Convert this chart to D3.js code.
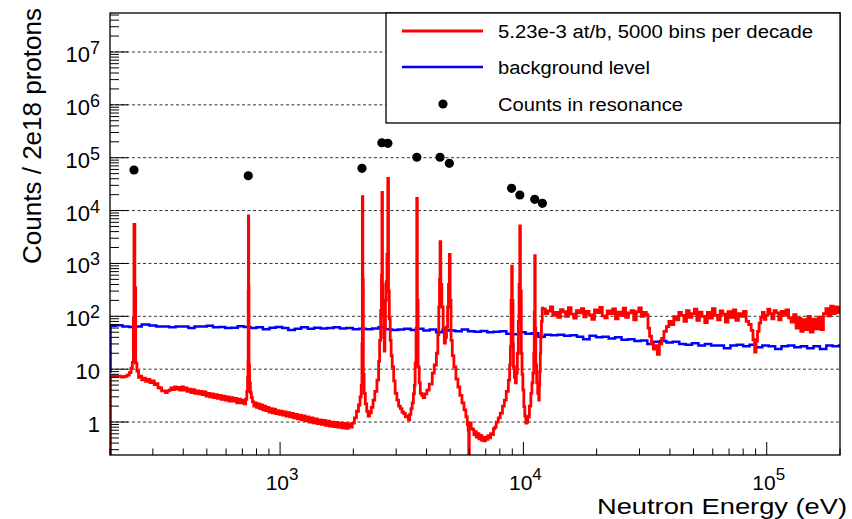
<!DOCTYPE html>
<html lang="en">
<head>
<meta charset="UTF-8">
<title>Counts vs Neutron Energy</title>
<script src="https://d3js.org/d3.v7.min.js"></script>
<style>
  body { margin: 0; background: #fff; }
  svg { display: block; font-family: "Liberation Sans", Arial, sans-serif; }
</style>
</head>
<body>
<div id="chart"></div>
<script>
// red histogram, [energy eV, counts]
const redTrace = [
  [200,0.1],[201,7.5],[208,7.3],[215,7.4],[222,7.1],[229,7.3],[235,7.7],[240,8.6],[244,10.5],[247,13.5],
  [249.5,90],[251,5500],[253,350],[255,13],[258,9.2],[262,7.0],[266,7.4],[270,6.3],[275,6.8],[280,5.9],
  [286,6.4],[292,5.6],[298,6.0],[304,5.1],[310,5.3],[315,4.5],[320,4.4],[326,3.9],[332,3.9],[338,3.6],
  [344,3.9],[350,4.0],[356,4.4],[362,4.1],[368,4.6],[374,4.2],[380,4.5],[387,4.0],[394,4.6],[401,4.0],
  [408,4.4],[415,3.8],[422,4.2],[430,3.6],[438,4.1],[446,3.5],[454,3.9],[462,3.4],[470,3.8],[478,3.3],
  [487,3.7],[496,3.1],[505,3.5],[514,3.0],[523,3.4],[532,2.9],[542,3.3],[552,2.8],[562,3.2],[572,2.7],
  [583,3.1],[594,2.6],[605,3.0],[616,2.5],[628,2.9],[640,2.5],[652,2.8],[664,2.3],[676,2.7],[688,2.3],
  [700,2.6],[712,2.2],[722,2.7],[730,3.8],[735,7],[738,14],[739.5,300],[741,7900],[743,385],[745,12],
  [749,5.5],[755,3.6],[762,2.9],[770,2.4],[780,2.0],[790,2.3],[800,1.9],[812,2.2],[824,1.8],[836,2.1],
  [848,1.7],[860,2.0],[873,1.65],[886,1.9],[900,1.55],[914,1.8],[928,1.5],[943,1.75],[958,1.45],[973,1.65],
  [990,1.4],[1005,1.6],[1022,1.35],[1040,1.55],[1058,1.3],[1076,1.5],[1095,1.25],[1115,1.45],[1135,1.2],[1155,1.4],
  [1176,1.15],[1198,1.35],[1220,1.1],[1242,1.3],[1265,1.05],[1290,1.25],[1315,1.0],[1340,1.2],[1365,0.97],[1392,1.15],
  [1420,0.93],[1448,1.1],[1477,0.9],[1506,1.07],[1536,0.87],[1566,1.04],[1597,0.84],[1628,1.0],[1660,0.82],[1693,0.98],
  [1727,0.8],[1761,0.95],[1796,0.78],[1832,0.94],[1868,0.76],[1905,0.92],[1943,0.8],[1980,0.95],[2020,1.2],[2060,1.6],
  [2100,2.1],[2130,3.0],[2155,5],[2170,30],[2178,18300],[2188,500],[2198,8],[2215,3.5],[2240,2.2],[2270,1.6],
  [2300,1.3],[2330,1.5],[2370,1.9],[2410,2.6],[2450,3.8],[2500,6.2],[2540,14],[2565,35],[2590,130],[2610,600],
  [2622,22100],[2635,400],[2650,100],[2665,40],[2680,22],[2695,60],[2710,200],[2730,450],[2750,1500],[2772,40700],
  [2790,300],[2810,90],[2835,35],[2860,18],[2890,11],[2930,6],[2970,3.5],[3020,2.6],[3070,2.0],[3120,1.8],
  [3170,1.55],[3220,1.45],[3270,1.25],[3320,1.3],[3370,1.1],[3410,1.4],[3450,1.8],[3490,2.3],[3530,3.4],[3565,5],
  [3590,13],[3620,60],[3645,17000],[3665,200],[3690,11],[3730,5.5],[3770,3.5],[3820,3.2],[3870,2.9],[3930,3.4],
  [4010,4.0],[4100,5.2],[4220,8.4],[4300,12],[4390,20],[4450,45],[4490,150],[4520,500],[4543,2570],[4575,400],
  [4620,150],[4680,60],[4730,31],[4780,40],[4830,63],[4880,150],[4920,400],[4960,1480],[5000,200],[5040,35],
  [5100,18],[5180,11],[5280,6.5],[5380,4.6],[5480,3.2],[5590,2.3],[5700,1.7],[5800,1.26],[5880,0.9],[5930,0.7],
  [5960,0.2],[5990,0.8],[6030,0.96],[6100,0.75],[6190,0.72],[6260,0.58],[6330,0.66],[6400,0.52],[6480,0.6],[6560,0.48],
  [6650,0.56],[6730,0.45],[6810,0.52],[6900,0.44],[6980,0.52],[7070,0.47],[7150,0.55],[7240,0.5],[7330,0.6],[7430,0.58],
  [7530,0.75],[7630,0.8],[7730,1.0],[7880,1.2],[8030,1.48],[8200,2.0],[8350,2.6],[8500,3.8],[8670,6.2],[8780,12],
  [8840,26.6],[8900,200],[8950,890],[9000,200],[9060,30],[9100,11],[9180,7],[9270,5.5],[9350,8.4],[9440,20],
  [9530,80],[9600,400],[9660,5130],[9720,300],[9800,20],[9870,8],[9950,4],[10040,1.95],[10130,1.3],[10230,0.96],
  [10330,1.0],[10430,1.26],[10580,2.0],[10730,3.5],[10840,5.5],[10940,8.4],[11030,20],[11080,120],[11130,1400],[11180,60],
  [11240,12],[11340,5.5],[11450,3.5],[11560,2.6],[11620,5],[11670,9],[11730,20],[11780,40],[11860,80],[11950,143],
  [12000,138],[12300,112],[12600,126],[12900,150],[13200,104],[13500,118],[13850,96],[14200,134],[14550,122],[14900,100],
  [15300,146],[15700,110],[16100,92],[16500,128],[16900,116],[17300,140],[17700,98],[18100,124],[18600,106],[19100,88],
  [19600,132],[20100,118],[20600,148],[21100,102],[21600,94],[22100,126],[22700,112],[23300,138],[23900,90],[24500,120],
  [25100,104],[25700,142],[26300,96],[27000,116],[27700,128],[28400,86],[29100,122],[29800,144],[30500,100],[31200,118],
  [32000,108],[32500,60],[33000,42],[33600,30],[34200,24],[34800,28],[35500,19],[36200,30],[37000,38],[37800,52],
  [38700,64],[39600,80],[40500,70],[41500,98],[42500,86],[43500,118],[44600,104],[45700,80],[46800,128],[48000,96],
  [49200,112],[50400,136],[51600,84],[52900,120],[54200,100],[55600,76],[57000,118],[58400,92],[59800,140],[61300,104],
  [62800,86],[64400,126],[66000,110],[67600,78],[69300,122],[71000,96],[72800,132],[74600,84],[76500,112],[78400,100],
  [80300,124],[82300,80],[84300,70],[86300,54],[87800,36],[89200,21],[90300,34],[91600,52],[93000,74],[94500,96],
  [96000,118],[97600,88],[99200,104],[101000,136],[103000,112],[105000,90],[107000,128],[109500,116],[112000,86],[114500,124],
  [117000,104],[120000,132],[123000,94],[126000,78],[129000,108],[132000,60],[135000,92],[138000,52],[141000,86],[144000,56],
  [147500,100],[151000,50],[155000,88],[159000,58],[163000,96],[167000,56],[171000,112],[175000,140],[179000,102],[183000,155],
  [187000,112],[191000,150],[195000,118],[199000,146],[200000,146]
];

// blue background level, [energy eV, counts]
const bgLevel = [
  [200,9],[201,66],[212,68],[225,64],[240,63],[255,64],[270,70],[290,67],[310,64],[330,64],
  [350,62],[372,64],[395,64],[420,60],[445,64],[470,64],[500,66],[530,62],[560,63],[595,60],
  [630,61],[670,65],[710,63],[755,60],[800,62],[850,57],[905,61],[960,63],[1020,60],[1080,55],
  [1150,58],[1220,62],[1300,58],[1380,61],[1470,59],[1560,60],[1660,62],[1760,59],[1870,60],[1990,57],
  [2110,58],[2250,57],[2390,59],[2540,62],[2700,57],[2870,55],[3050,56],[3240,58],[3440,55],[3650,58],
  [3880,54],[4120,56],[4380,50],[4650,55],[4940,54],[5250,52],[5580,56],[5920,52],[6290,51],[6680,53],
  [7100,50],[7540,51],[8010,52],[8510,47],[9040,46],[9600,50],[10200,47],[10840,48],[11520,41],[12240,45],
  [13000,44],[13800,45],[14700,43],[15600,44],[16600,41],[17600,37],[18700,43],[19900,40],[21100,41],[22400,38],
  [23800,40],[25300,36],[26900,37],[28600,34],[30400,35],[32300,30],[34300,33],[36400,34],[38700,32],[41100,33],
  [43700,30],[46400,29],[49300,31],[52400,28],[55700,30],[59100,28],[62800,28],[66700,25],[70900,28],[75300,29],
  [80000,27],[85000,29],[90300,26],[95900,28],[101900,27],[108300,24],[115000,27],[122200,28],[129800,26],[137900,27],
  [146500,25],[155700,27],[165400,24],[175700,28],[186600,27],[198200,28],[200000,28]
];

// counts in resonance (black dots)
const resonanceE = [251, 740, 2170, 2620, 2773, 3647, 4543, 4962, 8940, 9666, 11130, 11970];
const resonanceCounts = [58500, 45600, 63000, 192000, 187000, 102000, 102000, 78300, 26400, 19700, 16300, 13700];

const yMajor = [1, 10, 100, 1e3, 1e4, 1e5, 1e6, 1e7];
const yMajorLabels = [["1", ""], ["10", ""], ["10", "2"], ["10", "3"], ["10", "4"], ["10", "5"], ["10", "6"], ["10", "7"]];
const xMajor = [1e3, 1e4, 1e5];
const xMajorLabels = [["10", "3"], ["10", "4"], ["10", "5"]];

const legendItems = ["5.23e-3 at/b, 5000 bins per decade", "background level", "Counts in resonance"];

const width = 852, height = 519;
const plotLeft = 110, plotRight = 840, plotTop = 13, plotBottom = 455;

const x = d3.scaleLog().domain([200, 2e5]).range([plotLeft, plotRight]);
const y = d3.scaleLog().domain([0.238, 5.46e7]).range([plotBottom, plotTop]);

const svg = d3.select("#chart").append("svg")
  .attr("width", width).attr("height", height);

svg.append("defs").append("clipPath").attr("id", "plotclip")
  .append("rect").attr("x", plotLeft).attr("y", plotTop)
  .attr("width", plotRight - plotLeft).attr("height", plotBottom - plotTop);

// dashed grid at the decades
svg.append("g").selectAll("line")
  .data(yMajor)
  .join("line")
  .attr("x1", plotLeft).attr("x2", plotRight)
  .attr("y1", d => y(d)).attr("y2", d => y(d))
  .attr("stroke", "#333")
  .attr("stroke-width", 1)
  .attr("stroke-dasharray", "3,2.5");

const plot = svg.append("g").attr("clip-path", "url(#plotclip)");

const line = d3.line()
  .x(d => x(d[0]))
  .y(d => y(d[1]))
  .curve(d3.curveStepAfter);

plot.append("path")
  .datum(bgLevel)
  .attr("d", line)
  .attr("fill", "none")
  .attr("stroke", "#0000ff")
  .attr("stroke-width", 2.5);

plot.append("path")
  .datum(redTrace)
  .attr("d", line)
  .attr("fill", "none")
  .attr("stroke", "#ff0000")
  .attr("stroke-width", 2.8);

plot.selectAll(".dot")
  .data(resonanceE)
  .join("circle")
  .attr("cx", d => x(d))
  .attr("cy", (d, i) => y(resonanceCounts[i]))
  .attr("r", 4.6)
  .attr("fill", "#000");

// ticks (drawn inside the frame, ROOT style)
const yTicks = [];
for (let p = -1; p <= 7; p++) {
  for (let k = 1; k <= 9; k++) {
    const v = k * Math.pow(10, p);
    if (v >= 0.238 && v <= 5.46e7) yTicks.push({ v, major: k === 1 });
  }
}
svg.append("g").selectAll("line")
  .data(yTicks)
  .join("line")
  .attr("x1", plotLeft).attr("x2", d => plotLeft + (d.major ? 18 : 9))
  .attr("y1", d => y(d.v)).attr("y2", d => y(d.v))
  .attr("stroke", "#000").attr("stroke-width", 1);

const xTicks = [];
for (let p = 2; p <= 5; p++) {
  for (let k = 1; k <= 9; k++) {
    const v = k * Math.pow(10, p);
    if (v >= 200 && v <= 2e5) xTicks.push({ v, major: k === 1 });
  }
}
svg.append("g").selectAll("line")
  .data(xTicks)
  .join("line")
  .attr("x1", d => x(d.v)).attr("x2", d => x(d.v))
  .attr("y1", plotBottom).attr("y2", d => plotBottom - (d.major ? 13 : 6.5))
  .attr("stroke", "#000").attr("stroke-width", 1);

// frame
svg.append("rect")
  .attr("x", plotLeft).attr("y", plotTop)
  .attr("width", plotRight - plotLeft).attr("height", plotBottom - plotTop)
  .attr("fill", "none").attr("stroke", "#000").attr("stroke-width", 1.3);

// y labels
const yl = svg.append("g").selectAll("text")
  .data(yMajor)
  .join("text")
  .attr("x", 100)
  .attr("y", d => y(d) + 10)
  .attr("text-anchor", "end")
  .attr("font-size", 22)
  .attr("fill", "#000");
yl.append("tspan").text((d, i) => yMajorLabels[i][0]);
yl.append("tspan").attr("dy", -8).attr("font-size", 18).text((d, i) => yMajorLabels[i][1]);

// x labels
const xl = svg.append("g").selectAll("text")
  .data(xMajor)
  .join("text")
  .attr("x", d => x(d) + 2)
  .attr("y", 490)
  .attr("text-anchor", "middle")
  .attr("font-size", 21)
  .attr("fill", "#000");
xl.append("tspan").text((d, i) => xMajorLabels[i][0]);
xl.append("tspan").attr("dy", -10).attr("font-size", 17).text((d, i) => xMajorLabels[i][1]);

// axis titles
svg.append("text")
  .attr("x", 847).attr("y", 514)
  .attr("text-anchor", "end")
  .attr("font-size", 22)
  .attr("textLength", 250)
  .attr("lengthAdjust", "spacingAndGlyphs")
  .text("Neutron Energy (eV)");

svg.append("text")
  .attr("transform", "translate(41,8) rotate(-90)")
  .attr("text-anchor", "end")
  .attr("font-size", 25)
  .attr("textLength", 256)
  .attr("lengthAdjust", "spacingAndGlyphs")
  .text("Counts / 2e18 protons");

// legend
const lg = svg.append("g");
lg.append("rect")
  .attr("x", 386).attr("y", plotTop)
  .attr("width", plotRight - 386).attr("height", 110)
  .attr("fill", "#fff").attr("stroke", "#000").attr("stroke-width", 1.3);

const legendY = [31, 67, 104];
const legendLen = [315, 152, 185];
lg.append("line").attr("x1", 402).attr("x2", 483).attr("y1", legendY[0]).attr("y2", legendY[0])
  .attr("stroke", "#ff0000").attr("stroke-width", 2.8);
lg.append("line").attr("x1", 402).attr("x2", 483).attr("y1", legendY[1]).attr("y2", legendY[1])
  .attr("stroke", "#0000ff").attr("stroke-width", 2.5);
lg.append("circle").attr("cx", 443).attr("cy", legendY[2]).attr("r", 4.6).attr("fill", "#000");

lg.selectAll(".ltext")
  .data(legendItems)
  .join("text")
  .attr("x", 498)
  .attr("y", (d, i) => legendY[i] + 6.5)
  .attr("font-size", 18)
  .attr("textLength", (d, i) => legendLen[i])
  .attr("lengthAdjust", "spacingAndGlyphs")
  .text(d => d);
</script>
</body>
</html>
